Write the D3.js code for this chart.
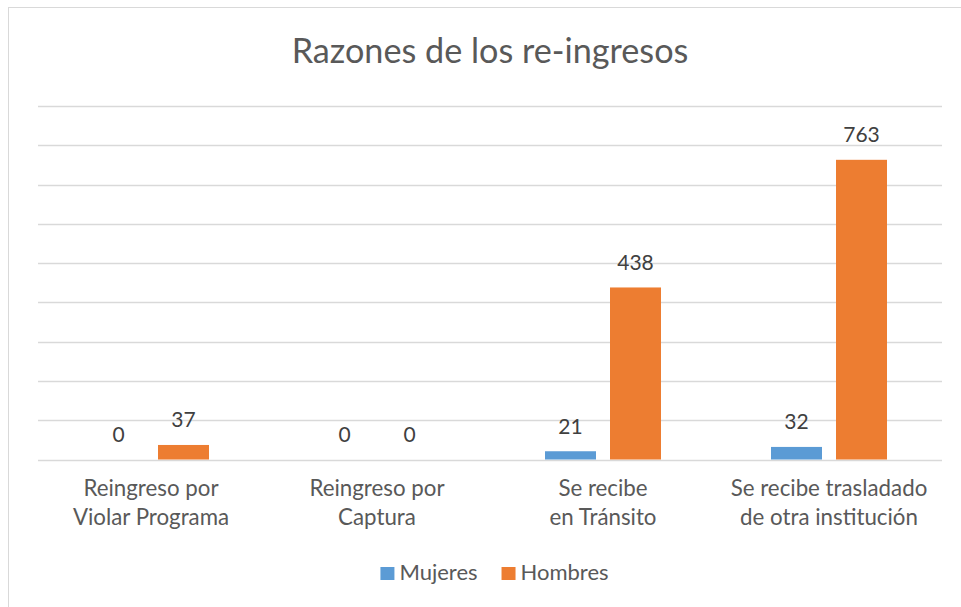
<!DOCTYPE html>
<html>
<head>
<meta charset="utf-8">
<script src="https://cdn.jsdelivr.net/npm/d3@7"></script>
<style>
  html, body { margin: 0; padding: 0; background: #fff; }
  svg { display: block; font-family: Lato, "Open Sans", sans-serif; }
</style>
</head>
<body>
<svg id="chart" width="961" height="607"></svg>
<script>
const title = "Razones de los re-ingresos";
const categories = [
  ["Reingreso por", "Violar Programa"],
  ["Reingreso por", "Captura"],
  ["Se recibe", "en Tránsito"],
  ["Se recibe trasladado", "de otra institución"]
];
const seriesNames = ["Mujeres", "Hombres"];
const mujeres = [0, 0, 21, 32];
const hombres = [37, 0, 438, 763];
const yTicks = [0, 100, 200, 300, 400, 500, 600, 700, 800, 900];
const colors = ["#5B9BD5", "#ED7D31"];

const svg = d3.select("#chart");
svg.append("rect").attr("x", 0).attr("y", 0).attr("width", 961).attr("height", 607).attr("fill", "#fff");
svg.append("rect").attr("x", 8.5).attr("y", 7.5).attr("width", 1200).attr("height", 1200)
  .attr("fill", "none").attr("stroke", "#d9d9d9").attr("stroke-width", 1);

const catKeys = categories.map(c => c.join(" "));
const values = [mujeres, hombres];

const x0 = d3.scaleBand().domain(catKeys).range([38, 942]).paddingInner(0).paddingOuter(0);
const x1 = d3.scaleBand().domain(seriesNames).range([-58, 58]).paddingInner(0.2154).paddingOuter(0);
const y = d3.scaleLinear().domain([0, 900]).range([459.5, 106]);

// gridlines
svg.append("g").selectAll("line").data(yTicks).join("line")
  .attr("x1", 38).attr("x2", 942)
  .attr("y1", d => Math.round(y(d)) + 0.5).attr("y2", d => Math.round(y(d)) + 0.5)
  .attr("stroke", "#d9d9d9").attr("stroke-width", 1.3);

// title
svg.append("text").attr("x", 490).attr("y", 63).attr("text-anchor", "middle")
  .attr("font-size", 34.2).attr("font-weight", 400).attr("fill", "#595959").text(title);

// bars
const barData = [];
seriesNames.forEach((s, si) => {
  catKeys.forEach((c, ci) => barData.push({ s, si, c, v: values[si][ci] }));
});
const bw = x1.bandwidth();
svg.append("g").selectAll("rect").data(barData).join("rect")
  .attr("x", d => x0(d.c) + x0.bandwidth() / 2 + x1(d.s))
  .attr("y", d => y(d.v))
  .attr("width", bw)
  .attr("height", d => y(0) - y(d.v))
  .attr("fill", d => colors[d.si]);

// value labels
svg.append("g").selectAll("text").data(barData).join("text")
  .attr("x", d => x0(d.c) + x0.bandwidth() / 2 + x1(d.s) + bw / 2)
  .attr("y", d => y(d.v) - 17.5)
  .attr("text-anchor", "middle").attr("font-size", 21).attr("fill", "#404040")
  .text(d => d.v);

// category labels
const cg = svg.append("g").selectAll("text").data(categories).join("text")
  .attr("text-anchor", "middle").attr("font-size", 22.3).attr("fill", "#595959")
  .attr("transform", (d, i) => `translate(${x0(catKeys[i]) + x0.bandwidth() / 2},0)`);
cg.selectAll("tspan").data(d => d).join("tspan")
  .attr("x", 0).attr("y", (d, i) => 496 + i * 28.5).text(d => d);

// legend
const lg = svg.append("g");
const items = lg.selectAll("g").data(seriesNames).join("g");
items.append("rect").attr("width", 14).attr("height", 13).attr("y", 567).attr("fill", (d, i) => colors[i]);
items.append("text").attr("x", 19).attr("y", 580).attr("font-size", 22).attr("fill", "#595959").text(d => d);
let cx = 0;
const offsets = [];
items.each(function () {
  offsets.push(cx);
  const w = 19 + d3.select(this).select("text").node().getComputedTextLength();
  cx += w + 24;
});
const total = cx - 24;
const start = 494.5 - total / 2;
items.attr("transform", (d, i) => `translate(${start + offsets[i]},0)`);
</script>
</body>
</html>
